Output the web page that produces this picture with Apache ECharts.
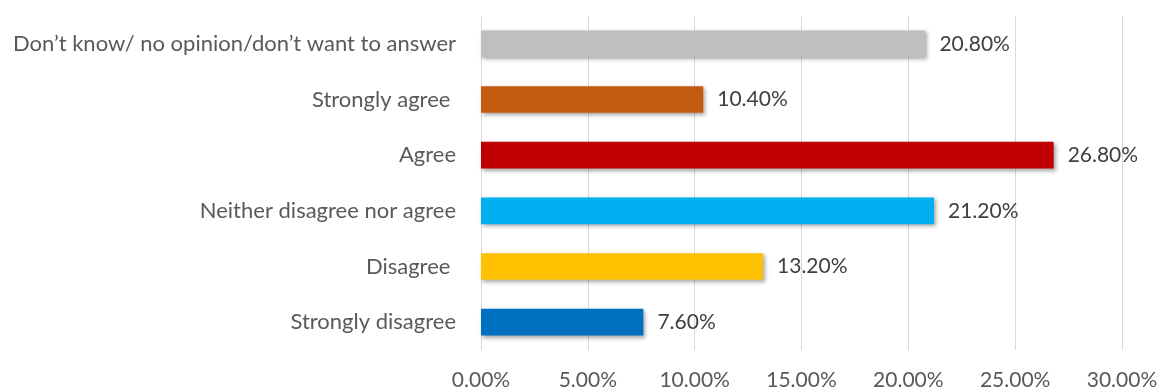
<!DOCTYPE html>
<html>
<head>
<meta charset="utf-8">
<script src="https://cdn.jsdelivr.net/npm/echarts@6/dist/echarts.min.js"></script>
<style>
  html, body { margin: 0; padding: 0; background: #ffffff; }
  #chart { width: 1162px; height: 391px; }
</style>
</head>
<body>
<div id="chart"></div>
<script>
// Survey responses, listed bottom to top
const categories = [
  'Strongly disagree',
  'Disagree ',
  'Neither disagree nor agree',
  'Agree',
  'Strongly agree ',
  'Don\u2019t know/ no opinion/don\u2019t want to answer'
];
const shares = [7.6, 13.2, 21.2, 26.8, 10.4, 20.8];
const barColors = ['#0070C0', '#FFC000', '#00B0F0', '#C00000', '#C55A11', '#BFBFBF'];
const axisTicks = [0, 5, 10, 15, 20, 25, 30];

const font = 'Lato, "Open Sans", sans-serif';
const chart = echarts.init(document.getElementById('chart'));
chart.setOption({
  animation: false,
  grid: { left: 481, right: 40, top: 16, bottom: 41, containLabel: false, outerBoundsMode: 'none' },
  xAxis: {
    type: 'value',
    min: axisTicks[0],
    max: axisTicks[axisTicks.length - 1],
    interval: 5,
    axisLine: { show: false },
    axisTick: { show: false },
    splitLine: { show: true, lineStyle: { color: '#D9D9D9', width: 1 } },
    axisLabel: {
      color: '#595959', fontFamily: font, fontSize: 21, margin: 20,
      formatter: v => v.toFixed(2) + '%'
    }
  },
  yAxis: {
    type: 'category',
    data: categories,
    axisLine: { show: false },
    axisTick: { show: false },
    axisLabel: { color: '#595959', fontFamily: font, fontSize: 22, margin: 25 }
  },
  series: [{
    type: 'bar',
    data: shares.map((v, i) => ({ value: v, itemStyle: { color: barColors[i] } })),
    barCategoryGap: '52%',
    itemStyle: {
      shadowColor: 'rgba(0,0,0,0.35)', shadowBlur: 4, shadowOffsetX: 2, shadowOffsetY: 2
    },
    label: {
      show: true, position: 'right', distance: 14,
      color: '#404040', fontFamily: font, fontSize: 21,
      formatter: p => p.value.toFixed(2) + '%'
    }
  }]
});
</script>
</body>
</html>
